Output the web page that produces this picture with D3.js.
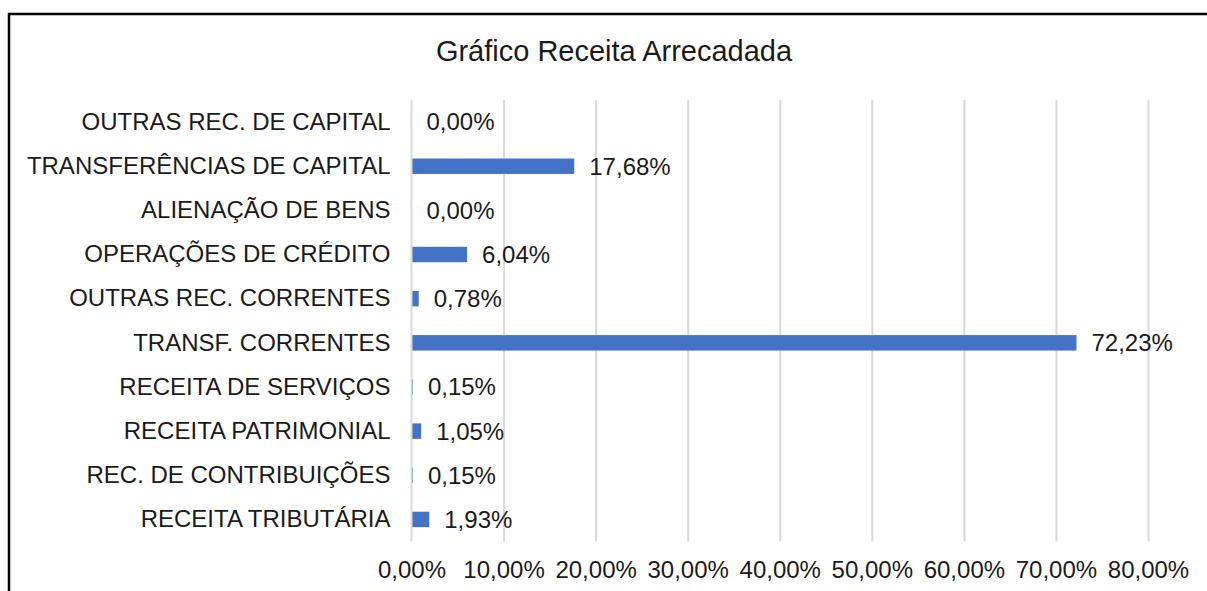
<!DOCTYPE html>
<html>
<head>
<meta charset="utf-8">
<script src="https://cdn.jsdelivr.net/npm/d3@7"></script>
<style>
  body { margin: 0; background: #fff; }
  svg { display: block; font-family: 'Liberation Sans', Arial, sans-serif; }
</style>
</head>
<body>
<svg id="chart" width="1207" height="591"></svg>
<script>
const TITLE = 'Gráfico Receita Arrecadada';

// top to bottom, as shown
const categories = [
  'OUTRAS REC. DE CAPITAL',
  'TRANSFERÊNCIAS DE CAPITAL',
  'ALIENAÇÃO DE BENS',
  'OPERAÇÕES DE CRÉDITO',
  'OUTRAS REC. CORRENTES',
  'TRANSF. CORRENTES',
  'RECEITA DE SERVIÇOS',
  'RECEITA PATRIMONIAL',
  'REC. DE CONTRIBUIÇÕES',
  'RECEITA TRIBUTÁRIA'
];
const values = [0.00, 17.68, 0.00, 6.04, 0.78, 72.23, 0.15, 1.05, 0.15, 1.93];
const xTicks = [0, 10, 20, 30, 40, 50, 60, 70, 80];

const BAR_COLOR = '#4472C4';
const GRID_COLOR = '#d9d9d9';
const FONT_SIZE = 24;

const ptBR = d3.formatLocale({ decimal: ',', thousands: '.', grouping: [3], currency: ['R$', ''] });
const pct = (d) => ptBR.format('.2f')(d) + '%';

const svg = d3.select('#chart');

const plot = { left: 411.5, right: 1148, top: 100, bottom: 541.5 };

const x = d3.scaleLinear().domain([0, 80]).range([plot.left, plot.right]);
const y = d3.scaleBand()
  .domain(categories)
  .range([plot.top, plot.bottom])
  .paddingInner(0.65)
  .paddingOuter(0.325);

// frame (only top and left edges are in view)
svg.append('rect')
  .attr('x', 9).attr('y', 14)
  .attr('width', 1220).attr('height', 600)
  .attr('fill', 'none')
  .attr('stroke', '#000')
  .attr('stroke-width', 2.5);

// title
svg.append('text')
  .attr('x', 614)
  .attr('y', 61)
  .attr('text-anchor', 'middle')
  .style('font-size', '29px')
  .style('fill', '#1a1a1a')
  .text(TITLE);

function styleText(g) {
  g.selectAll('text')
    .attr('font-family', null)
    .attr('font-size', null)
    .style('font-size', FONT_SIZE + 'px')
    .style('fill', '#1a1a1a');
}

// grid (zero line goes on top of the bars, below)
svg.append('g')
  .attr('transform', `translate(0, ${plot.bottom})`)
  .call(d3.axisBottom(x).tickValues(xTicks.slice(1)).tickSize(-(plot.bottom - plot.top)).tickFormat(''))
  .call((g) => g.select('.domain').remove())
  .call((g) => g.selectAll('.tick line').attr('stroke', GRID_COLOR).attr('stroke-width', 2));

// x labels
svg.append('g')
  .attr('transform', `translate(0, ${plot.bottom})`)
  .call(d3.axisBottom(x).tickValues(xTicks).tickSize(0).tickPadding(19).tickFormat(pct))
  .call((g) => g.select('.domain').remove())
  .call(styleText);

// category labels
svg.append('g')
  .attr('transform', `translate(${plot.left}, 0)`)
  .call(d3.axisLeft(y).tickSize(0).tickPadding(21))
  .call((g) => g.select('.domain').remove())
  .call(styleText);

// bars
svg.append('g')
  .selectAll('rect')
  .data(values)
  .join('rect')
  .attr('x', x(0))
  .attr('y', (d, i) => y(categories[i]))
  .attr('width', (d) => x(d) - x(0))
  .attr('height', y.bandwidth())
  .attr('fill', BAR_COLOR);

// zero line
svg.append('line')
  .attr('x1', x(0)).attr('x2', x(0))
  .attr('y1', plot.top).attr('y2', plot.bottom)
  .attr('stroke', GRID_COLOR)
  .attr('stroke-width', 2);

// value labels
svg.append('g')
  .selectAll('text')
  .data(values)
  .join('text')
  .attr('x', (d) => x(d) + 15)
  .attr('y', (d, i) => y(categories[i]) + y.bandwidth() / 2)
  .attr('dy', '0.35em')
  .style('font-size', FONT_SIZE + 'px')
  .style('fill', '#1a1a1a')
  .text(pct);
</script>
</body>
</html>
